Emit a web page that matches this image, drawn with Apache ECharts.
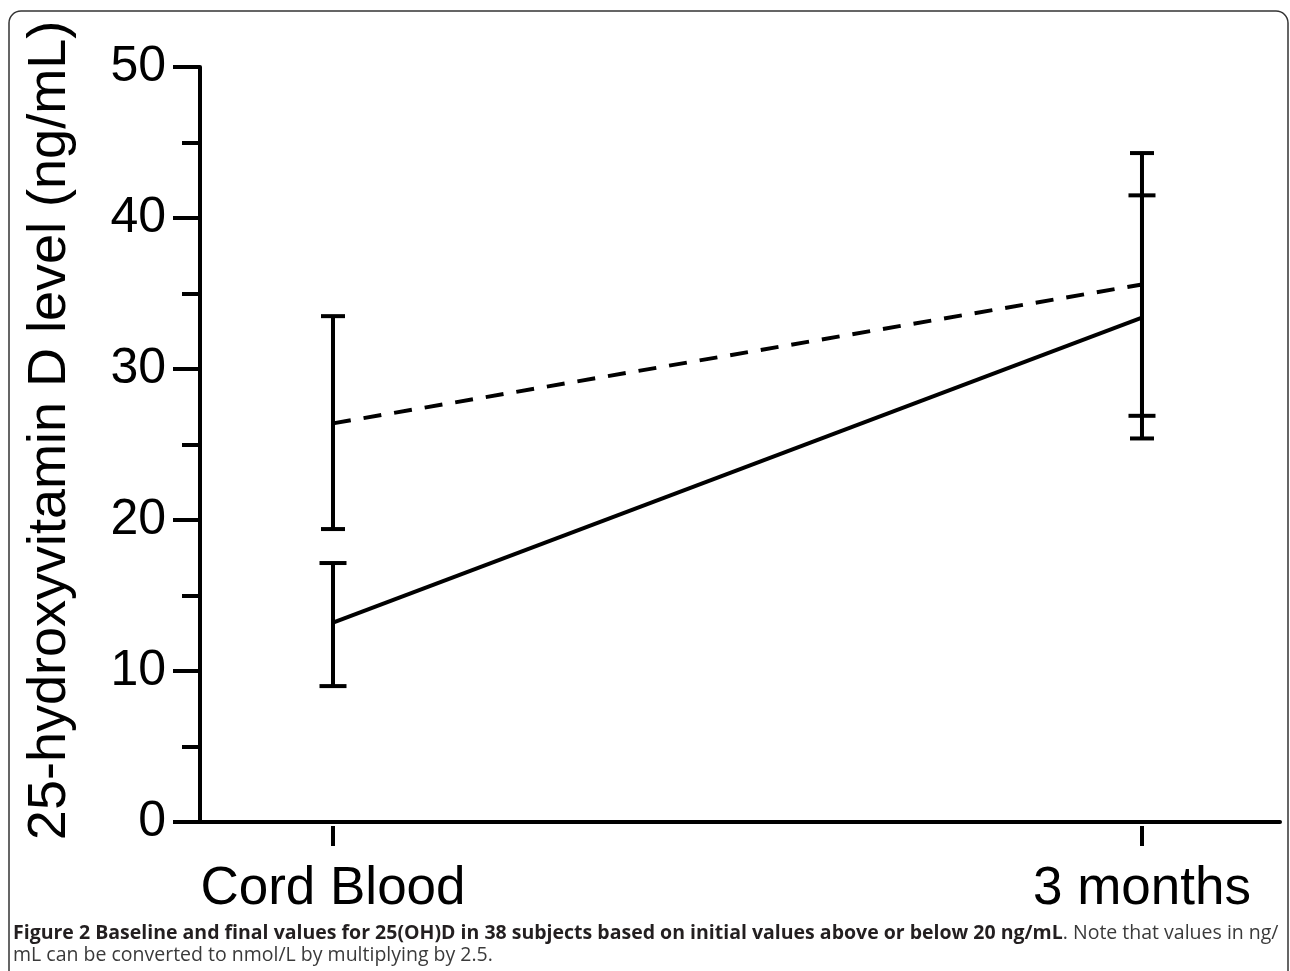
<!DOCTYPE html>
<html>
<head>
<meta charset="utf-8">
<script src="https://cdn.jsdelivr.net/npm/echarts@6/dist/echarts.min.js"></script>
<style>
  html, body { margin: 0; padding: 0; background: #fff; }
  #chart { width: 1290px; height: 971px; }
</style>
</head>
<body>
<div id="chart"></div>
<script>
// ---- Data ----
var categories = ['Cord Blood', '3 months'];
// Subjects with initial value below 20 ng/mL (solid line)
var belowMean = [13.2, 33.4];
var belowLow  = [9.0, 26.9];
var belowHigh = [17.15, 41.5];
// Subjects with initial value above 20 ng/mL (dashed line)
var aboveMean = [26.4, 35.6];
var aboveLow  = [19.4, 25.4];
var aboveHigh = [33.5, 44.3];
var yTicks = [0, 10, 20, 30, 40, 50];
var yTitle = '25-hydroxyvitamin D level (ng/mL)';
var captionBold = 'Figure 2 Baseline and final values for 25(OH)D in 38 subjects based on initial values above or below 20 ng/mL';
var captionRest1 = '. Note that values in ng/';
var captionRest2 = 'mL can be converted to nmol/L by multiplying by 2.5.';

var catIdx = categories.map(function (c, i) { return i; });
function pts(vals) { return vals.map(function (v, i) { return [catIdx[i], v]; }); }
function bars(lo, hi) { return lo.map(function (v, i) { return [catIdx[i], v, hi[i]]; }); }

function errRender(capHalf) {
  return function (params, api) {
    var x = api.value(0);
    var lo = api.coord([x, api.value(1)]);
    var hi = api.coord([x, api.value(2)]);
    var st = { stroke: '#000', lineWidth: 4, lineCap: 'butt' };
    return {
      type: 'group',
      children: [
        { type: 'line', shape: { x1: lo[0], y1: lo[1], x2: hi[0], y2: hi[1] }, style: st },
        { type: 'line', shape: { x1: lo[0] - capHalf, y1: lo[1], x2: lo[0] + capHalf, y2: lo[1] }, style: st },
        { type: 'line', shape: { x1: hi[0] - capHalf, y1: hi[1], x2: hi[0] + capHalf, y2: hi[1] }, style: st }
      ]
    };
  };
}

var font = '"Liberation Sans", Arial, Helvetica, sans-serif';
var chart = echarts.init(document.getElementById('chart'), null, { renderer: 'canvas' });

var xMin = -0.1644, xMax = 1.1706;

chart.setOption({
  animation: false,
  backgroundColor: '#fff',
  title: {
    left: 13,
    top: 922,
    padding: 0,
    text: '{b|' + captionBold + '}{n|' + captionRest1 + '}\n{n|' + captionRest2 + '}',
    textStyle: {
      rich: {
        b: { fontFamily: '"Open Sans", sans-serif', fontWeight: 'bold', fontSize: 19.5, color: '#231f20', lineHeight: 22 },
        n: { fontFamily: '"Open Sans", sans-serif', fontWeight: 'normal', fontSize: 19.5, color: '#3a3a3a', lineHeight: 22 }
      }
    }
  },
  graphic: [{
    type: 'rect',
    shape: { x: 9, y: 11, width: 1279, height: 1000, r: 12 },
    style: { fill: 'none', stroke: '#333', lineWidth: 1.5 },
    silent: true
  }],
  grid: { left: 200, right: 10, top: 67, bottom: 149, containLabel: false },
  xAxis: [{
    type: 'value', min: xMin, max: xMax,
    axisLine: { show: true, onZero: false, lineStyle: { color: '#000', width: 4 } },
    axisTick: { show: false },
    axisLabel: { show: false },
    splitLine: { show: false }
  }, {
    type: 'value', min: xMin, max: xMax, position: 'bottom', offset: 4,
    axisLine: { show: false, onZero: false },
    axisTick: { show: true, length: 20, customValues: catIdx, lineStyle: { color: '#000', width: 4 } },
    axisLabel: {
      show: true, customValues: catIdx, margin: 37,
      fontFamily: font, fontSize: 53, color: '#000',
      formatter: function (v) { return categories[Math.round(v)] || ''; }
    },
    splitLine: { show: false }
  }],
  yAxis: {
    type: 'value', min: 0, max: 50, interval: 10,
    name: yTitle, nameLocation: 'middle', nameGap: 123,
    nameTextStyle: { fontFamily: font, fontSize: 54, color: '#000', padding: [0, 0, 0, 28] },
    axisLine: { show: true, onZero: false, lineStyle: { color: '#000', width: 4 } },
    axisTick: { show: true, length: 27, lineStyle: { color: '#000', width: 4 } },
    minorTick: { show: true, splitNumber: 2, length: 18, lineStyle: { color: '#000', width: 4 } },
    axisLabel: {
      margin: 34, fontFamily: font, fontSize: 50, color: '#000',
      formatter: function (v) { return yTicks.indexOf(v) >= 0 ? String(v) : ''; }
    },
    splitLine: { show: false }
  },
  series: [{
    name: 'below 20', type: 'line', data: pts(belowMean), symbol: 'none',
    lineStyle: { color: '#000', width: 4 }, z: 3
  }, {
    name: 'above 20', type: 'line', data: pts(aboveMean), symbol: 'none',
    lineStyle: { color: '#000', width: 4, type: [18, 13] }, z: 3
  }, {
    name: 'below 20 SD', type: 'custom', data: bars(belowLow, belowHigh),
    renderItem: errRender(13.5), encode: { x: 0, y: [1, 2] }, z: 4
  }, {
    name: 'above 20 SD', type: 'custom', data: bars(aboveLow, aboveHigh),
    renderItem: errRender(12), encode: { x: 0, y: [1, 2] }, z: 4
  }]
});
</script>
</body>
</html>
